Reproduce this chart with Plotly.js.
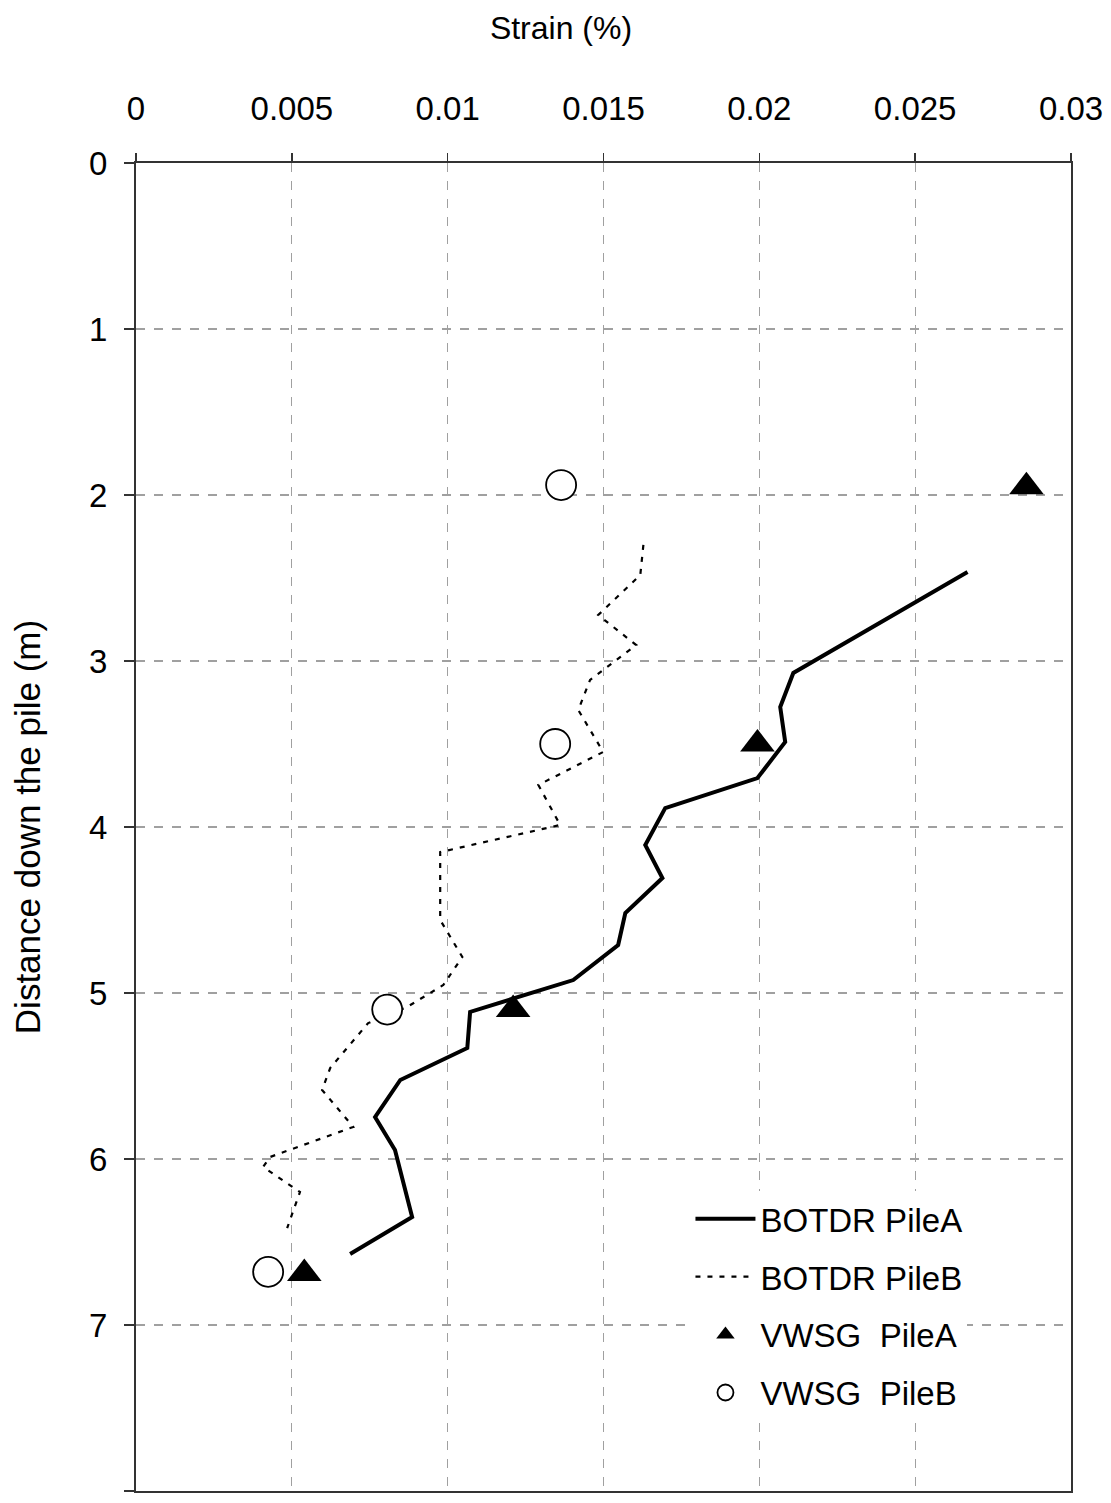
<!DOCTYPE html>
<html>
<head>
<meta charset="utf-8">
<script src="https://cdn.plot.ly/plotly-3.0.1.min.js"></script>
<style>html,body{margin:0;padding:0;background:#fff;}#chart{width:1111px;height:1503px;}</style>
</head>
<body>
<div id="chart"></div>
<script>
// BOTDR Pile A (solid line)
const botdrA_strain = [0.02668, 0.02109, 0.02067, 0.02083, 0.01994, 0.01698, 0.01634, 0.01689, 0.01570, 0.01547, 0.01403, 0.01130, 0.01072, 0.01063, 0.00848, 0.00767, 0.00831, 0.00886, 0.00687];
const botdrA_depth  = [2.464, 3.072, 3.277, 3.488, 3.705, 3.886, 4.108, 4.307, 4.518, 4.711, 4.922, 5.084, 5.114, 5.331, 5.524, 5.747, 5.946, 6.349, 6.572];

// BOTDR Pile B (dotted line)
const botdrB_strain = [0.01628, 0.01618, 0.01483, 0.01605, 0.01457, 0.01419, 0.01499, 0.01291, 0.01361, 0.00976, 0.00976, 0.01047, 0.00986, 0.00870, 0.00745, 0.00623, 0.00597, 0.00697, 0.00430, 0.00408, 0.00526, 0.00485];
const botdrB_depth  = [2.301, 2.482, 2.723, 2.904, 3.114, 3.295, 3.548, 3.747, 3.988, 4.151, 4.560, 4.783, 4.952, 5.084, 5.181, 5.452, 5.584, 5.807, 5.988, 6.048, 6.199, 6.416];

// VWSG Pile A (filled triangles)
const vwsgA_strain = [0.02857, 0.01994, 0.01210, 0.00540];
const vwsgA_depth  = [1.95, 3.50, 5.10, 6.69];

// VWSG Pile B (open circles)
const vwsgB_strain = [0.01364, 0.01345, 0.00806, 0.00424];
const vwsgB_depth  = [1.94, 3.50, 5.10, 6.68];

const xTicks = [0, 0.005, 0.01, 0.015, 0.02, 0.025, 0.03];
const xTickLabels = ['0', '0.005', '0.01', '0.015', '0.02', '0.025', '0.03'];
const yTicks = [0, 1, 2, 3, 4, 5, 6, 7, 8];

const FONT = 'Liberation Sans, Arial, sans-serif';

const traces = [
  {x: botdrA_strain, y: botdrA_depth, mode: 'lines', name: 'BOTDR PileA', legendgroup: 'a',
   line: {color: '#000', width: 4}},
  {x: botdrB_strain, y: botdrB_depth, mode: 'lines', name: 'BOTDR PileB', legendgroup: 'b',
   line: {color: '#000', width: 2.2, dash: '5px,7px'}},
  {x: vwsgA_strain, y: vwsgA_depth, mode: 'markers', name: 'VWSG\u00a0 PileA', legendgroup: 'c',
   marker: {symbol: 'triangle-up', size: 30, color: '#000', line: {width: 0}}},
  {x: vwsgB_strain, y: vwsgB_depth, mode: 'markers', name: 'VWSG\u00a0 PileB', legendgroup: 'd',
   marker: {symbol: 'circle', size: 30, color: '#fff', line: {color: '#000', width: 1.8}}}
];

const layout = {
  width: 1111, height: 1503,
  margin: {l: 136, r: 40, t: 163, b: 12},
  paper_bgcolor: '#fff', plot_bgcolor: '#fff',
  font: {family: FONT, color: '#000', size: 33},
  title: {text: 'Strain (%)', font: {family: FONT, size: 32, color: '#000'},
          x: 561 / 1111, xanchor: 'center', xref: 'container',
          y: 1 - 28 / 1503, yanchor: 'middle', yref: 'container'},
  showlegend: true,
  legend: {x: 0.593, y: 0.226, xanchor: 'left', yanchor: 'top', bgcolor: '#fff',
           font: {family: FONT, size: 33, color: '#000'}, tracegroupgap: 12,
           itemwidth: 60},
  xaxis: {
    side: 'top', range: [0, 0.03], tickvals: xTicks, ticktext: xTickLabels,
    showline: true, linecolor: '#333', linewidth: 2, mirror: true,
    ticks: 'outside', ticklen: 8, tickcolor: '#333', tickwidth: 1.5,
    ticklabelstandoff: 20,
    showgrid: true, gridcolor: '#a0a0a0', gridwidth: 1.3, griddash: 'dash',
    zeroline: false, tickfont: {size: 33}
  },
  yaxis: {
    range: [8, 0], tickvals: yTicks,
    showline: true, linecolor: '#333', linewidth: 2, mirror: true,
    ticks: 'outside', ticklen: 10, tickcolor: '#333', tickwidth: 1.5,
    ticklabelstandoff: 10,
    showgrid: true, gridcolor: '#a0a0a0', gridwidth: 1.3, griddash: 'dash',
    zeroline: false, tickfont: {size: 33},
    title: {text: 'Distance down the pile (m)', font: {size: 35}, standoff: 38}
  }
};

Plotly.newPlot('chart', traces, layout, {staticPlot: true});
</script>
</body>
</html>
